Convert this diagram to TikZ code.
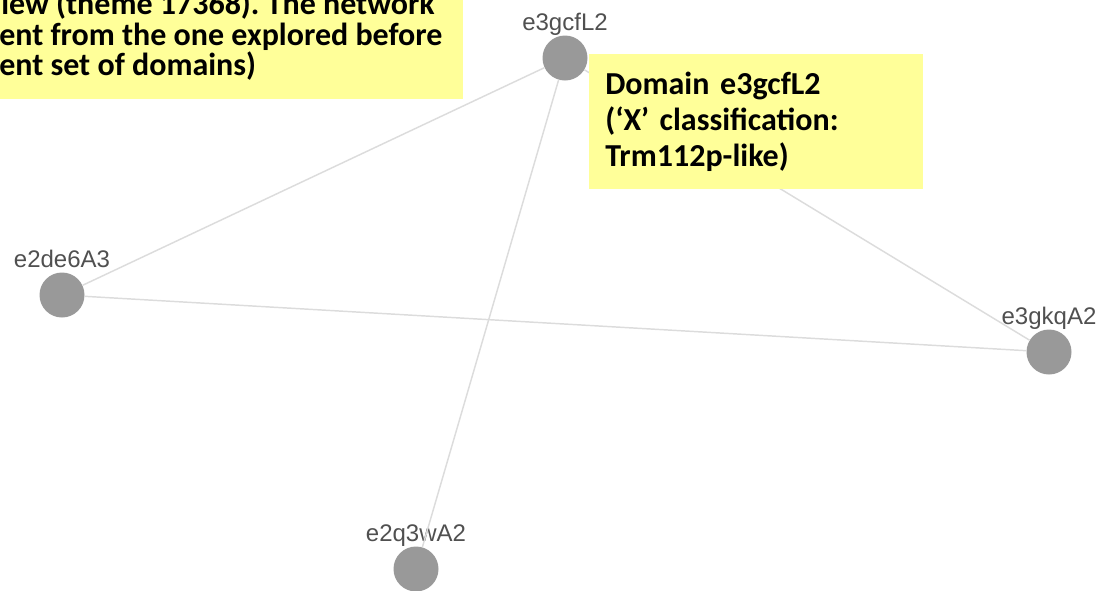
\documentclass[tikz,border=0pt]{standalone}
\usepackage{fontspec}
\setmainfont{Carlito}
\newfontfamily\labelfont{Liberation Sans}
\usetikzlibrary{positioning}
\definecolor{memo}{HTML}{FFFF99}
\definecolor{edgegray}{HTML}{DCDCDC}
\definecolor{dotgray}{HTML}{999999}
\definecolor{labelgray}{HTML}{505050}
\frenchspacing

\begin{document}
\begin{tikzpicture}[
  x=0.75pt,y=-0.75pt,
  dom/.style={circle,fill=dotgray,minimum size=33.75pt,inner sep=0pt},
  lbl/.style={font=\labelfont\fontsize{18}{21}\selectfont,text=labelgray,inner sep=0pt},
  e/.style={draw=edgegray,line width=1.1pt},
  memobox/.style={fill=memo,inner sep=0pt,anchor=north west},
  memotext/.style={font=\fontsize{24}{27}\selectfont\bfseries,inner sep=0pt,anchor=base west}
]
\useasboundingbox (0,0) rectangle (1099,590);
\clip (0,0) rectangle (1099,590);
% domains
\node[dom] (gcf) at (565,58) {};
\node[dom] (de6) at (62,295) {};
\node[dom] (gkq) at (1049,352) {};
\node[dom] (q3w) at (416,569) {};
\node[lbl,above=3.75pt of gcf,anchor=base] (gcf-l) {e3gcfL2};
\node[lbl,above=3.75pt of de6,anchor=base] (de6-l) {e2de6A3};
\node[lbl,above=3.75pt of gkq,anchor=base] (gkq-l) {e3gkqA2};
\node[lbl,above=3.75pt of q3w,anchor=base] (q3w-l) {e2q3wA2};
\draw[e] (gcf) -- (de6);
\draw[e] (gcf) -- (q3w);
\draw[e] (gcf) -- (gkq);
\draw[e] (de6) -- (gkq);
% notes
\node[memobox,minimum width=347.25pt,minimum height=74.25pt] (topmemo) at (0,0) {};
\node[memotext] (top1) at (1,14) {iew (theme 17368). The network};
\node[memotext] (top2) at (-1,45) {ent from the one explored before};
\node[memotext] (top3) at (-1,75) {ent set of domains)};
\node[memobox,minimum height=101.25pt,text width=226.5pt,inner xsep=12pt,align=left,
  font=\fontsize{24}{27}\selectfont\bfseries] (gcfmemo) at (589,54)
  {Domain e3gcfL2\\(‘X’ classification:\\Trm112p-like)};
\end{tikzpicture}
\end{document}
